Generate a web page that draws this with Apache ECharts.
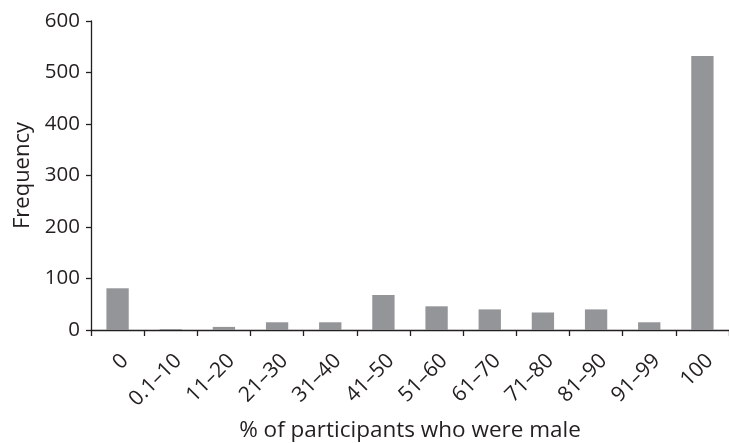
<!DOCTYPE html>
<html>
<head>
<meta charset="utf-8">
<script src="https://cdn.jsdelivr.net/npm/echarts@6/dist/echarts.min.js"></script>
<style>
  html, body { margin: 0; padding: 0; background: #fff; }
  #main { width: 729px; height: 443px; }
</style>
</head>
<body>
<div id="main"></div>
<script>
// categories on the x axis
let categories = ["0", "0.1\u201310", "11\u201320", "21\u201330", "31\u201340", "41\u201350",
  "51\u201360", "61\u201370", "71\u201380", "81\u201390", "91\u201399", "100"];
// frequency per category
let frequency = [81, 2, 6, 15, 15, 68, 46, 40, 34, 40, 15, 532];
// y tick values
let yTicks = [0, 100, 200, 300, 400, 500, 600];

let myChart = echarts.init(document.getElementById("main"));
let ink = "#231f20";
let font = "Open Sans";

let option = {
  animation: false,
  grid: { left: 91, right: 0, top: 21, bottom: 113, outerBoundsMode: "none" },
  xAxis: {
    type: "category",
    data: categories,
    name: "% of participants who were male",
    nameLocation: "middle",
    nameGap: 89,
    nameTextStyle: { color: ink, fontSize: 22.5, fontFamily: font },
    axisLine: { lineStyle: { color: ink, width: 1.3 } },
    axisTick: { show: true, length: 6, lineStyle: { color: ink, width: 1.3 } },
    axisLabel: {
      rotate: 45, color: ink, fontSize: 21, fontFamily: font,
      margin: 20, interval: 0, align: "right", verticalAlign: "top"
    }
  },
  yAxis: {
    type: "value",
    min: yTicks[0],
    max: yTicks[yTicks.length - 1],
    interval: 100,
    name: "Frequency",
    nameLocation: "middle",
    nameGap: 57,
    nameTextStyle: { color: ink, fontSize: 22, fontFamily: font },
    axisLine: { show: true, lineStyle: { color: ink, width: 1.3 } },
    axisTick: { show: true, length: 5, lineStyle: { color: ink, width: 1.3 } },
    axisLabel: { color: ink, fontSize: 20.5, fontFamily: font, margin: 11 },
    splitLine: { show: false }
  },
  series: [
    {
      type: "bar",
      data: frequency,
      barWidth: "42%",
      itemStyle: { color: "#939598" }
    }
  ]
};
myChart.setOption(option);
</script>
</body>
</html>
